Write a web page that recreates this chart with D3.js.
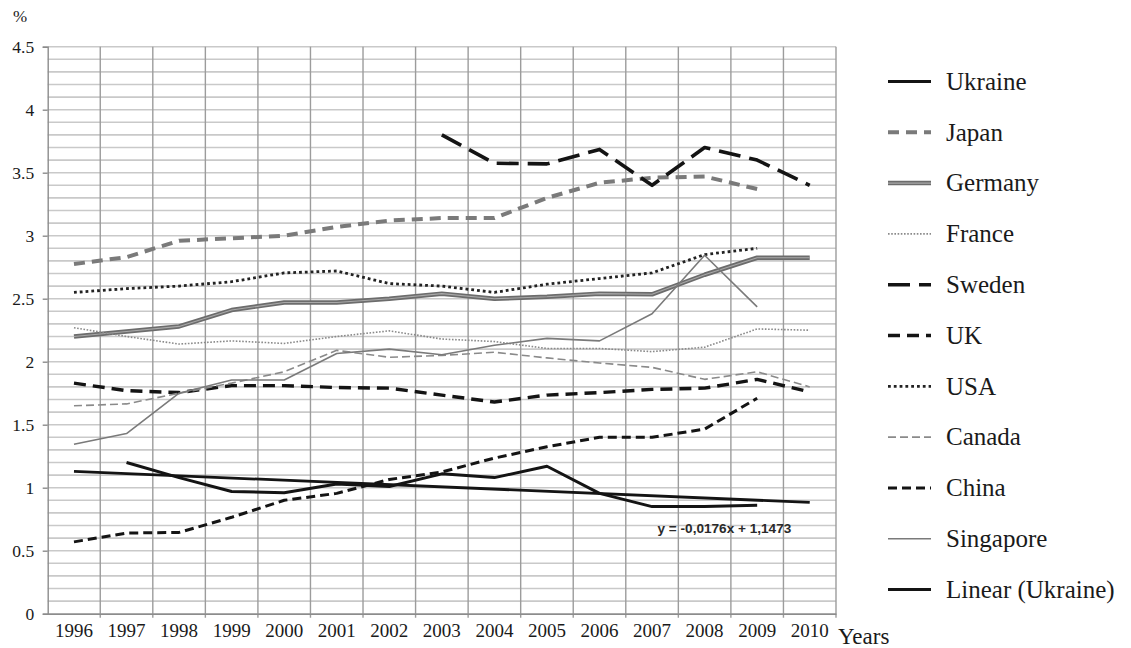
<!DOCTYPE html>
<html>
<head>
<meta charset="utf-8">
<script src="https://cdn.jsdelivr.net/npm/d3@7"></script>
<style>
  html, body { margin: 0; padding: 0; background: #fff; }
  svg { display: block; }
  .serif text, text.serif { font-family: 'Liberation Serif', 'Times New Roman', serif; }
</style>
</head>
<body>
<svg id="chart" width="1131" height="648"></svg>
<script>
// ---------- DATA ----------
const years = [1996,1997,1998,1999,2000,2001,2002,2003,2004,2005,2006,2007,2008,2009,2010];
const yTicks = [0, 0.5, 1, 1.5, 2, 2.5, 3, 3.5, 4, 4.5];

const ukraine   = [null, 1.20, 1.08, 0.97, 0.96, 1.03, 1.01, 1.11, 1.08, 1.17, 0.955, 0.85, 0.85, 0.86, null];
const japan     = [2.775, 2.83, 2.96, 2.98, 3.00, 3.07, 3.12, 3.14, 3.14, 3.30, 3.42, 3.46, 3.47, 3.37, null];
const germany   = [2.20, 2.24, 2.28, 2.41, 2.47, 2.47, 2.50, 2.54, 2.50, 2.515, 2.54, 2.535, 2.69, 2.825, 2.825];
const france    = [2.27, 2.20, 2.14, 2.165, 2.145, 2.20, 2.245, 2.18, 2.16, 2.105, 2.105, 2.08, 2.115, 2.26, 2.25];
const sweden    = [null, null, null, null, null, null, null, 3.80, 3.575, 3.57, 3.685, 3.40, 3.70, 3.60, 3.40];
const uk        = [1.83, 1.77, 1.755, 1.81, 1.81, 1.795, 1.79, 1.735, 1.68, 1.735, 1.755, 1.78, 1.79, 1.86, 1.76];
const usa       = [2.55, 2.58, 2.60, 2.635, 2.705, 2.72, 2.62, 2.60, 2.55, 2.615, 2.66, 2.705, 2.85, 2.90, null];
const canada    = [1.65, 1.665, 1.75, 1.83, 1.92, 2.09, 2.035, 2.05, 2.075, 2.03, 1.99, 1.955, 1.86, 1.92, 1.80];
const china     = [0.57, 0.64, 0.645, 0.765, 0.90, 0.955, 1.065, 1.125, 1.235, 1.325, 1.40, 1.40, 1.465, 1.71, null];
const singapore = [1.345, 1.43, 1.75, 1.855, 1.855, 2.065, 2.10, 2.055, 2.13, 2.185, 2.165, 2.38, 2.845, 2.435, null];
// Linear trendline of Ukraine (y = -0,0176x + 1,1473), end points
const trendYears  = [1996, 2010];
const trendValues = [1.1297, 0.8833];
const trendLabel = "y = -0,0176x + 1,1473";

const legendNames = ["Ukraine","Japan","Germany","France","Sweden","UK","USA","Canada","China","Singapore","Linear (Ukraine)"];

// ---------- STYLES ----------
const styles = {
  "Ukraine":          {color:"#141414", width:3,   dash:null},
  "Japan":            {color:"#7a7a7a", width:4,   dash:"11,7"},
  "Germany":          {color:"#6c6c6c", width:4.5, dash:null, inner:"#a9a9a9"},
  "France":           {color:"#8a8a8a", width:1.6, dash:"1.6,1.6"},
  "Sweden":           {color:"#141414", width:3.6, dash:"22,9"},
  "UK":               {color:"#141414", width:3.4, dash:"12,7"},
  "USA":              {color:"#222222", width:2.8, dash:"2.8,3"},
  "Canada":           {color:"#8a8a8a", width:1.6, dash:"8,4"},
  "China":            {color:"#141414", width:3,   dash:"9,5"},
  "Singapore":        {color:"#7a7a7a", width:1.6, dash:null},
  "Linear (Ukraine)": {color:"#141414", width:2.8, dash:null}
};

const seriesList = [
  {name:"Japan", values:japan},
  {name:"Germany", values:germany},
  {name:"France", values:france},
  {name:"Sweden", values:sweden},
  {name:"UK", values:uk},
  {name:"USA", values:usa},
  {name:"Canada", values:canada},
  {name:"China", values:china},
  {name:"Singapore", values:singapore},
  {name:"Ukraine", values:ukraine}
];

// ---------- LAYOUT ----------
const svg = d3.select("#chart");
const pLeft = 47.7, pRight = 836, pTop = 46.7, pBottom = 613.7;
const serifFont = "'Liberation Serif', 'Times New Roman', serif";

const x = d3.scaleBand().domain(years).range([pLeft, pRight]).padding(0);
const xc = d => x(d) + x.bandwidth() / 2;
const y = d3.scaleLinear().domain([0, 4.5]).range([pBottom, pTop]);

// horizontal gridlines every 0.1
const minor = d3.range(0, 46).map(i => +(i * 0.1).toFixed(1));
svg.append("g").selectAll("line").data(minor).join("line")
  .attr("x1", pLeft).attr("x2", pRight)
  .attr("y1", d => y(d)).attr("y2", d => y(d))
  .attr("stroke", "#c9c9c9").attr("stroke-width", 1.6);

// vertical gridlines at category boundaries
const bounds = years.map(d => x(d)).concat([pRight]);
svg.append("g").selectAll("line").data(bounds.slice(1)).join("line")
  .attr("x1", d => d).attr("x2", d => d)
  .attr("y1", pTop).attr("y2", pBottom + 4)
  .attr("stroke", "#9c9c9c").attr("stroke-width", 1.4);

// Y axis
const yAxis = d3.axisLeft(y).tickValues(yTicks).tickSize(5).tickFormat(d => d3.format("")(d));
const gy = svg.append("g").attr("class", "serif").attr("transform", `translate(${pLeft},0)`).call(yAxis)
  .attr("font-family", serifFont).attr("font-size", 17.5);
gy.select(".domain").attr("stroke", "#8c8c8c").attr("stroke-width", 1.4);
gy.selectAll(".tick line").attr("stroke", "#8c8c8c").attr("stroke-width", 1.4);
gy.selectAll(".tick text")
  .attr("x", -13.5).attr("dy", "0.33em")
  .style("font-family", serifFont)
  .attr("fill", "#1a1a1a");

// X axis
const xAxis = d3.axisBottom(x).tickSize(0).tickPadding(0);
const gx = svg.append("g").attr("class", "serif").attr("transform", `translate(0,${pBottom})`).call(xAxis)
  .attr("font-family", serifFont).attr("font-size", 19);
gx.select(".domain").attr("stroke", "#8c8c8c").attr("stroke-width", 1.4);
gx.selectAll(".tick text")
  .attr("y", 23).attr("dy", 0)
  .style("font-family", serifFont)
  .attr("fill", "#1a1a1a");

// axis titles
svg.append("text").attr("x", 13).attr("y", 22)
  .style("font-family", serifFont).attr("font-size", 17)
  .attr("fill", "#1a1a1a").text("%");
svg.append("text").attr("x", 838).attr("y", 644)
  .style("font-family", serifFont).attr("font-size", 23)
  .attr("fill", "#1a1a1a").text("Years");

// ---------- LINES ----------
const line = d3.line()
  .defined(d => d.v !== null)
  .x(d => xc(d.year))
  .y(d => y(d.v));

function drawPath(g, data, st) {
  g.append("path").datum(data)
    .attr("d", line)
    .attr("fill", "none")
    .attr("stroke", st.color)
    .attr("stroke-width", st.width)
    .attr("stroke-dasharray", st.dash)
    .attr("stroke-linejoin", "round");
  if (st.inner) {
    g.append("path").datum(data)
      .attr("d", line)
      .attr("fill", "none")
      .attr("stroke", st.inner)
      .attr("stroke-width", 1.1)
      .attr("stroke-linejoin", "round");
  }
}

const gLines = svg.append("g");
seriesList.forEach(s => {
  const data = years.map((yr, i) => ({year: yr, v: s.values[i]}));
  drawPath(gLines, data, styles[s.name]);
});

// trendline
const trendData = trendYears.map((yr, i) => ({year: yr, v: trendValues[i]}));
drawPath(gLines, trendData, styles["Linear (Ukraine)"]);

svg.append("text").attr("x", 657.5).attr("y", 533)
  .style("font-family", "'Liberation Sans', Arial, sans-serif")
  .attr("font-weight", "bold").attr("font-size", 13.6)
  .attr("fill", "#2a2a2a").text(trendLabel);

// ---------- LEGEND ----------
const lg = svg.append("g");
legendNames.forEach((name, i) => {
  const cy = 81.5 + i * 50.8;
  const st = styles[name];
  const g = lg.append("g");
  g.append("line").attr("x1", 888).attr("x2", 931).attr("y1", cy).attr("y2", cy)
    .attr("stroke", st.color).attr("stroke-width", st.width)
    .attr("stroke-dasharray", st.dash);
  if (st.inner) {
    g.append("line").attr("x1", 888).attr("x2", 931).attr("y1", cy).attr("y2", cy)
      .attr("stroke", st.inner).attr("stroke-width", 1.1);
  }
  g.append("text").attr("x", 946).attr("y", cy).attr("dy", "0.33em")
    .style("font-family", serifFont)
    .attr("font-size", 25).attr("fill", "#1a1a1a").text(name);
});
</script>
</body>
</html>
